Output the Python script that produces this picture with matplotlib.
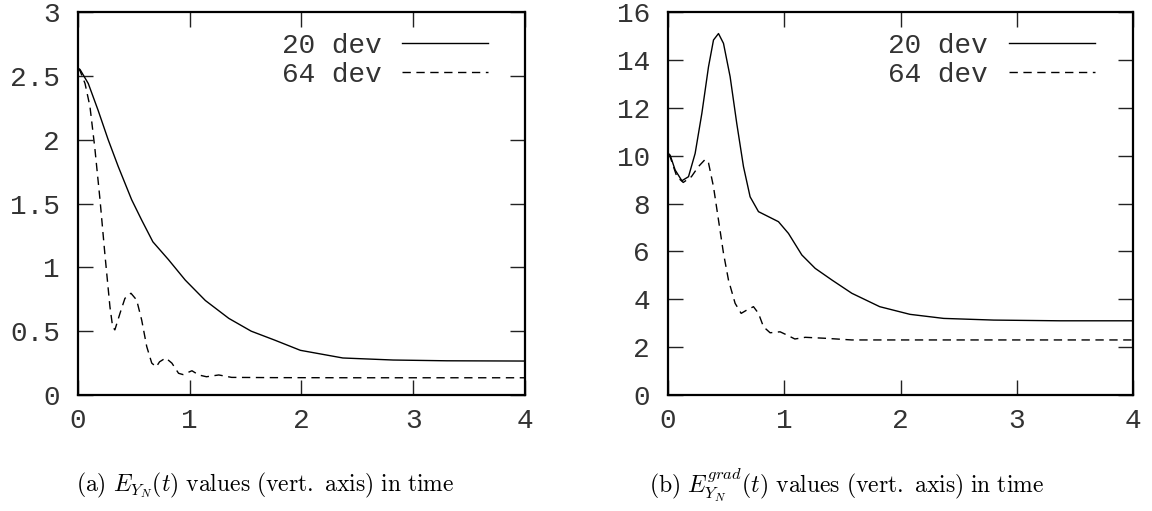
import matplotlib
matplotlib.use('Agg')
import matplotlib.pyplot as plt

plt.rcParams['font.family'] = 'Liberation Mono'
plt.rcParams['mathtext.fontset'] = 'cm'

# (a) E_{Y_N}(t) values
t_a_20 = [0.0, 0.018, 0.092, 0.18, 0.27, 0.36, 0.48, 0.57, 0.67, 0.81, 0.96, 1.14, 1.35, 1.55,
          1.76, 1.99, 2.37, 2.82, 3.3, 4.0]
e_a_20 = [2.56, 2.55, 2.44, 2.23, 2.00, 1.79, 1.53, 1.37, 1.20, 1.06, 0.90, 0.74, 0.60, 0.50,
          0.43, 0.35, 0.29, 0.274, 0.268, 0.266]
t_a_64 = [0.0, 0.018, 0.063, 0.107, 0.15, 0.197, 0.24, 0.286, 0.31, 0.33, 0.376, 0.42, 0.474,
          0.525, 0.57, 0.615, 0.66, 0.70, 0.73, 0.785, 0.84, 0.90, 0.94, 1.02, 1.08, 1.15, 1.26,
          1.375, 1.76, 2.5, 4.0]
e_a_64 = [2.56, 2.54, 2.44, 2.26, 1.94, 1.53, 1.11, 0.69, 0.535, 0.51, 0.64, 0.757, 0.797,
          0.744, 0.587, 0.38, 0.25, 0.22, 0.26, 0.29, 0.25, 0.17, 0.16, 0.19, 0.157, 0.143, 0.157,
          0.138, 0.136, 0.135, 0.135]

# (b) E^{grad}_{Y_N}(t) values
t_b_20 = [0.0, 0.017, 0.06, 0.118, 0.175, 0.232, 0.29, 0.347, 0.39, 0.433, 0.476, 0.533, 0.59,
          0.648, 0.705, 0.777, 0.863, 0.949, 1.035, 1.15, 1.265, 1.41, 1.58, 1.82, 2.08,
          2.37, 2.80, 3.37, 4.0]
e_b_20 = [10.1, 10.02, 9.40, 8.95, 9.12, 10.09, 11.77, 13.71, 14.83, 15.1, 14.69, 13.3, 11.35,
          9.54, 8.28, 7.66, 7.45, 7.24, 6.75, 5.85, 5.29, 4.80, 4.25, 3.69, 3.37, 3.20,
          3.13, 3.10, 3.10]
t_b_64 = [0.0, 0.017, 0.075, 0.13, 0.2, 0.26, 0.318, 0.347, 0.39, 0.433, 0.476, 0.519, 0.576,
          0.628, 0.677, 0.734, 0.777, 0.82, 0.877, 0.963, 1.02, 1.09, 1.18, 1.35, 1.58, 2.5, 4.0]
e_b_64 = [10.05, 9.95, 9.12, 8.88, 9.12, 9.54, 9.84, 9.70, 8.70, 7.31, 5.92, 4.80, 3.83, 3.41,
          3.55, 3.69, 3.41, 2.85, 2.60, 2.64, 2.51, 2.34, 2.41, 2.37, 2.30, 2.30, 2.30]

labels = ['20 dev', '64 dev']
captions = [r'$\mathrm{(a)\ }E_{Y_N}(t)\mathrm{\ values\ (vert.\ axis)\ in\ time}$',
            r'$\mathrm{(b)\ }E^{grad}_{Y_N}(t)\mathrm{\ values\ (vert.\ axis)\ in\ time}$']

fig = plt.figure(figsize=(11.52, 5.11), dpi=100)
ax1 = fig.add_axes([0.0677, 0.227, 0.388, 0.7495])
ax2 = fig.add_axes([0.580, 0.227, 0.4036, 0.7495])

ax1.plot(t_a_20, e_a_20, color='black', lw=1.0, label=labels[0])
ax1.plot(t_a_64, e_a_64, color='black', lw=1.0, ls=(0, (6, 4)), label=labels[1])
ax1.set_ylim(0, 3)
ax1.set_yticks([0, 0.5, 1, 1.5, 2, 2.5, 3])
ax1.set_yticklabels(['0', '0.5', '1', '1.5', '2', '2.5', '3'])

ax2.plot(t_b_20, e_b_20, color='black', lw=1.0, label=labels[0])
ax2.plot(t_b_64, e_b_64, color='black', lw=1.0, ls=(0, (6, 4)), label=labels[1])
ax2.set_ylim(0, 16)
ax2.set_yticks(range(0, 17, 2))

for ax in (ax1, ax2):
    ax.set_xlim(0, 4)
    ax.set_xticks([0, 1, 2, 3, 4])
    ax.tick_params(direction='in', length=11, width=1, top=True, right=True,
                   labelsize=20, colors='#222222', labelcolor='#333333')
    ax.tick_params(axis='x', pad=9)
    ax.tick_params(axis='y', pad=13)
    for sp in ax.spines.values():
        sp.set_linewidth(1.6)
    leg = ax.legend(loc='upper right', bbox_to_anchor=(0.918, 0.945), frameon=False,
                    markerfirst=False, fontsize=20, handlelength=3.1, labelspacing=0.11,
                    borderaxespad=0, borderpad=0, handletextpad=0.75)
    for txt in leg.get_texts():
        txt.set_color('#333333')

fig.text(0.23, 0.05, captions[0], fontsize=17, ha='center', va='center')
fig.text(0.735, 0.05, captions[1], fontsize=17, ha='center', va='center')

fig.savefig('out.png', dpi=100)
